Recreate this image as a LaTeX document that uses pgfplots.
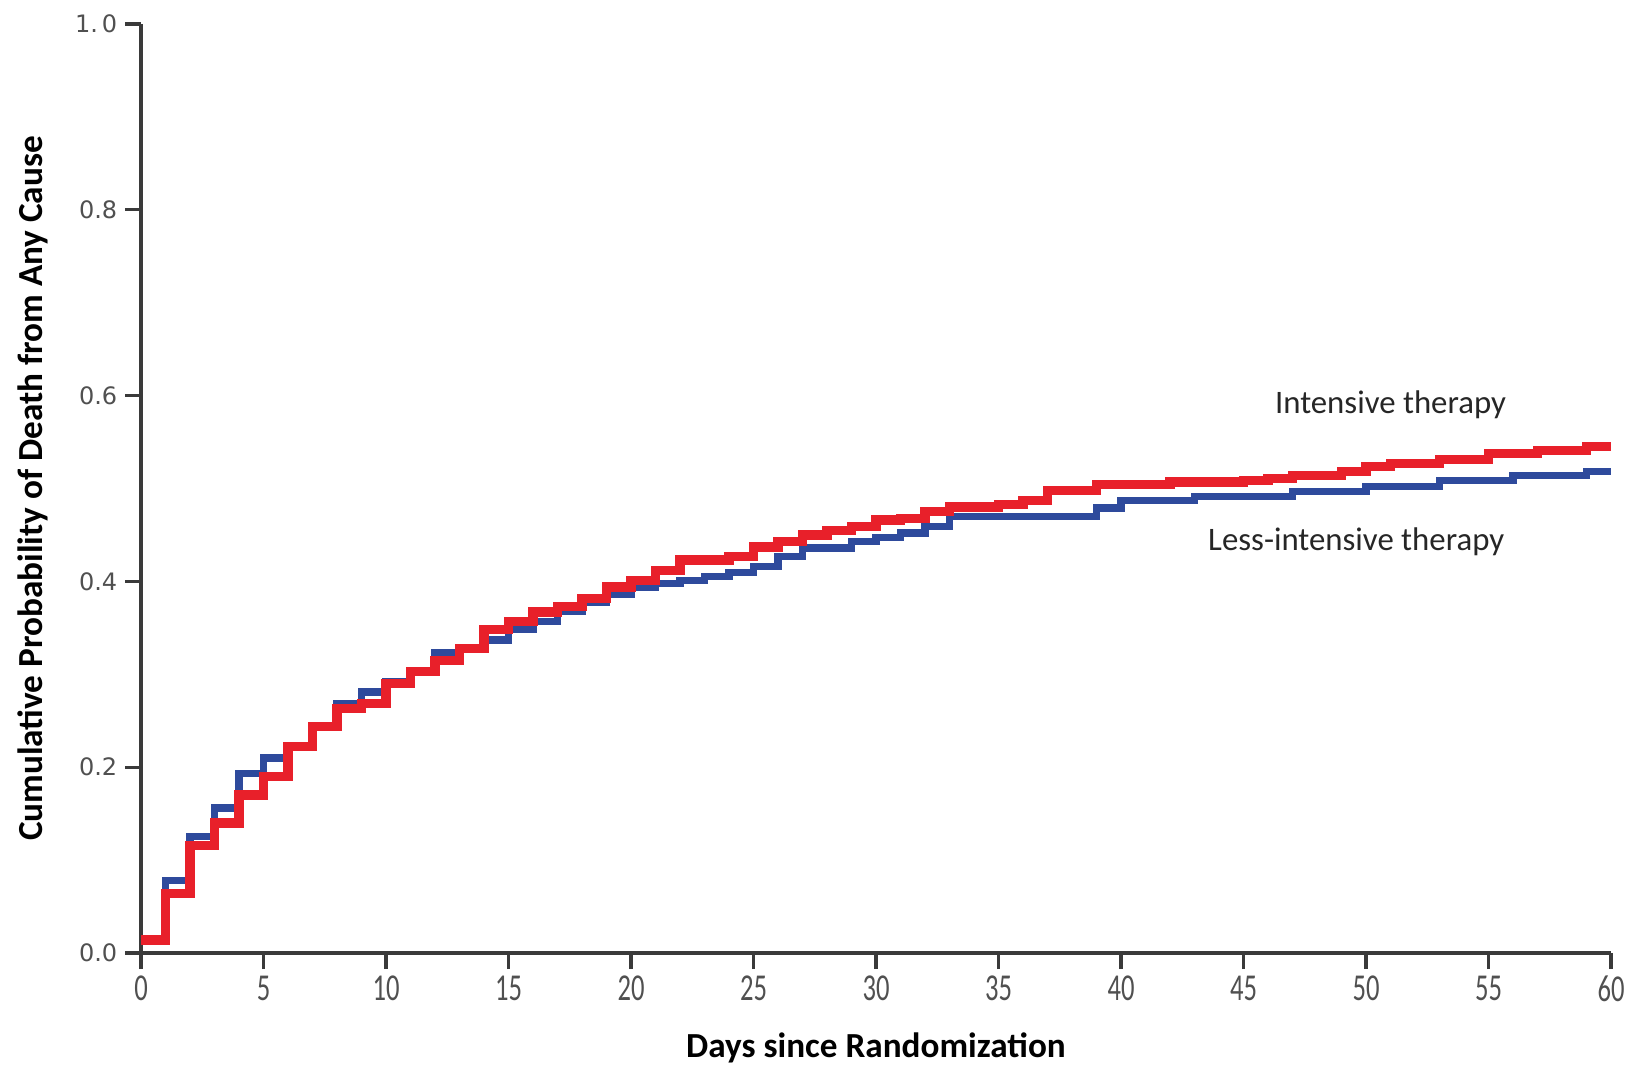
\documentclass[border=0pt]{standalone}
\usepackage{fontspec}
\setmainfont{Carlito}
\newfontfamily\dejavu{DejaVu Sans}
\usepackage{pgfplots}
\pgfplotsset{compat=1.18}
\definecolor{kmred}{HTML}{E8202A}
\definecolor{kmblue}{HTML}{2E4A9C}
\definecolor{axisgray}{HTML}{3A3A3A}
\definecolor{ticktext}{HTML}{505050}

\begin{document}
\begin{tikzpicture}
\begin{axis}[
  scale only axis,
  width=367.5pt, height=232.25pt,
  xmin=0, xmax=60, ymin=0, ymax=1,
  axis lines=left,
  axis line style={-, line width=0.8pt, draw=axisgray},
  tick style={line width=0.8pt, draw=axisgray},
  tick align=outside,
  major tick length=4pt,
  xtick={0,5,...,60},
  ytick={0,0.2,0.4,0.6,0.8,1},
  yticklabels={0.0,0.2,0.4,0.6,0.8,1.\,0},
  /pgf/number format/assume math mode=true,
  xticklabel style={font=\fontsize{9.5}{10}\selectfont, xscale=0.7, text=ticktext, yshift=1.8pt},
  yticklabel style={font=\dejavu\fontsize{6}{6}\selectfont, text=ticktext, xshift=1.6pt},
  xlabel={Days since Randomization},
  ylabel={Cumulative Probability of Death from Any Cause},
  xlabel style={font=\bfseries\fontsize{8.8}{9}\selectfont, inner sep=0pt, at={(axis description cs:0.5,-0.102)}, anchor=center},
  ylabel style={font=\bfseries\fontsize{8.8}{9}\selectfont, inner sep=0pt, at={(axis description cs:-0.0735,0.5)}, anchor=center},
  clip=false,
]
% less-intensive therapy
\addplot[const plot, draw=kmblue, line width=1.8pt] coordinates {
(0,0.012) (1,0.078) (2,0.125) (3,0.156) (4,0.193) (5,0.210) (6,0.222)
(7,0.245) (8,0.268) (9,0.281) (10,0.292) (11,0.303) (12,0.323) (13,0.328)
(14,0.337) (15,0.348) (16,0.357) (17,0.368) (18,0.377) (19,0.386) (20,0.394)
(21,0.398) (22,0.401) (23,0.405) (24,0.410) (25,0.416) (26,0.427) (27,0.436)
(29,0.443) (30,0.447) (31,0.452) (32,0.459) (33,0.470) (39,0.479) (40,0.487)
(43,0.491) (47,0.497) (50,0.502) (53,0.509) (56,0.514) (59,0.518) (60,0.518)
};
% intensive therapy
\addplot[const plot, draw=kmred, line width=2.3pt] coordinates {
(0,0.014) (1,0.064) (2,0.116) (3,0.140) (4,0.170) (5,0.190) (6,0.222)
(7,0.244) (8,0.263) (9,0.269) (10,0.290) (11,0.303) (12,0.315) (13,0.328)
(14,0.348) (15,0.357) (16,0.367) (17,0.373) (18,0.382) (19,0.394) (20,0.401)
(21,0.412) (22,0.423) (24,0.427) (25,0.437) (26,0.443) (27,0.450) (28,0.455)
(29,0.459) (30,0.466) (31,0.468) (32,0.475) (33,0.480) (35,0.483) (36,0.487)
(37,0.498) (39,0.504) (42,0.507) (45,0.509) (46,0.511) (47,0.514) (49,0.518)
(50,0.524) (51,0.527) (53,0.531) (55,0.538) (57,0.541) (59,0.545) (60,0.545)
};
\node[font=\fontsize{8.2}{9}\selectfont, text=black!85] at (axis cs:51.0,0.59) {Intensive therapy};
\node[font=\fontsize{8.2}{9}\selectfont, text=black!85] at (axis cs:49.6,0.443) {Less-intensive therapy};
\coordinate (ll) at (rel axis cs:0,0);
\coordinate (ur) at (rel axis cs:1,1);
\end{axis}
\path ([shift={(-35.25pt,-28.5pt)}]ll) rectangle ([shift={(6.5pt,6pt)}]ur);
\end{tikzpicture}
\end{document}
